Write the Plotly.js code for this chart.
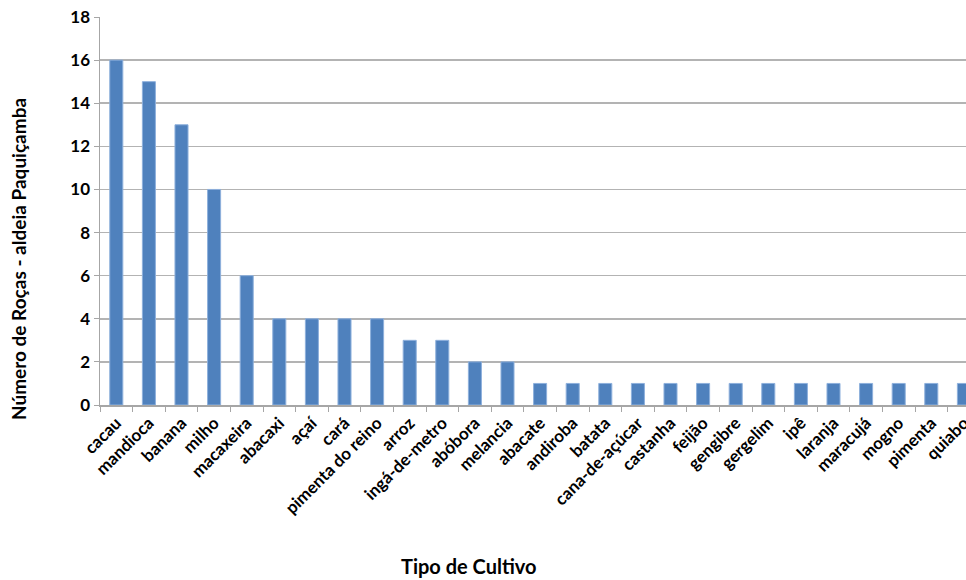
<!DOCTYPE html>
<html>
<head>
<meta charset="utf-8">
<script src="https://cdn.plot.ly/plotly-3.0.1.min.js"></script>
<style>html,body{margin:0;padding:0;background:#fff;}#chart{width:966px;height:580px;}</style>
</head>
<body>
<div id="chart"></div>
<script>
const categories = ["cacau","mandioca","banana","milho","macaxeira","abacaxi","açaí","cará","pimenta do reino","arroz","ingá-de-metro","abóbora","melancia","abacate","andiroba","batata","cana-de-açúcar","castanha","feijão","gengibre","gergelim","ipê","laranja","maracujá","mogno","pimenta","quiabo"];
const values = [16,15,13,10,6,4,4,4,4,3,3,2,2,1,1,1,1,1,1,1,1,1,1,1,1,1,1];
const yTitle = "Número de Roças - aldeia Paquiçamba";
const xTitle = "Tipo de Cultivo";

const W = 966, H = 580, L = 100, R = 0, T = 17, B = 175;
const pw = W - L - R, ph = H - T - B;
const step = 32.6;
const font = "Lato, 'Open Sans', sans-serif";

Plotly.newPlot('chart', [{
  type: 'bar',
  x: categories,
  y: values,
  marker: {color: '#4f81bd', line: {color: '#8eb0dc', width: 1}},
  hoverinfo: 'x+y'
}], {
  width: W, height: H,
  margin: {l: L, r: R, t: T, b: B, pad: 0},
  paper_bgcolor: '#fff', plot_bgcolor: '#fff',
  bargap: 0.6,
  showlegend: false,
  xaxis: {
    type: 'category',
    range: [-0.5, -0.5 + pw / step],
    tickangle: -45,
    tickson: 'boundaries',
    ticks: 'outside', ticklen: 5, tickcolor: '#a6a6a6', tickwidth: 1,
    showline: true, linecolor: '#a6a6a6', linewidth: 1.5,
    showgrid: false,
    tickfont: {family: font, size: 17, color: '#000', weight: 'bold'},
    fixedrange: true
  },
  yaxis: {
    range: [0, 18], dtick: 2, tick0: 0,
    ticks: 'outside', ticklen: 5, tickcolor: '#a6a6a6', tickwidth: 1,
    showline: true, linecolor: '#a6a6a6', linewidth: 1.5,
    showgrid: true, gridcolor: '#b3b3b3', gridwidth: 1.5,
    zeroline: false,
    tickfont: {family: font, size: 17, color: '#000', weight: 'bold'},
    fixedrange: true
  },
  annotations: [
    {text: yTitle, xref: 'paper', yref: 'paper', x: (18 - L) / pw, y: (405 - 259) / ph,
     xanchor: 'center', yanchor: 'middle', textangle: -90, showarrow: false,
     font: {family: font, size: 19, color: '#000', weight: 'bold'}},
    {text: xTitle, xref: 'paper', yref: 'paper', x: (469 - L) / pw, y: (405 - 566) / ph,
     xanchor: 'center', yanchor: 'middle', showarrow: false,
     font: {family: font, size: 20, color: '#000', weight: 'bold'}}
  ]
}, {displayModeBar: false, staticPlot: true});
</script>
</body>
</html>
